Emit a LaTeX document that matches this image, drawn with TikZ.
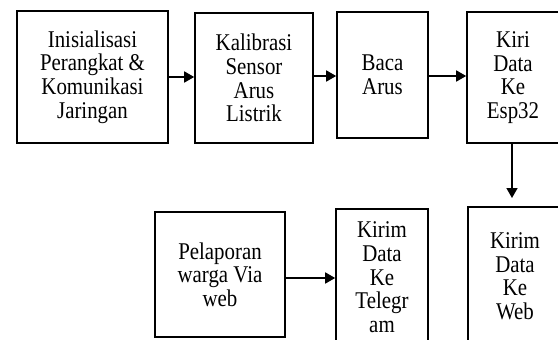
\documentclass[tikz,border=0pt]{standalone}
\usepackage{fontspec}
\setmainfont{Liberation Serif}[FakeStretch=0.87]
\usetikzlibrary{arrows.meta}
\begin{document}
\begin{tikzpicture}[x=1pt,y=-1pt,
  box/.style={draw,line width=1.6pt,align=center,inner sep=0pt,
    font=\fontsize{24}{23.7}\selectfont},
  conn/.style={line width=1.6pt,-{Triangle[length=10pt,width=11pt]}}]
\useasboundingbox (0,0) rectangle (558,340);
\clip (0,0) rectangle (558,340);
\node[box,minimum width=151pt,minimum height=132pt] (init) at (92.5,77) {Inisialisasi\\Perangkat \&\\Komunikasi\\Jaringan};
\node[box,minimum width=118pt,minimum height=130pt] (kal) at (254,78) {Kalibrasi\\Sensor\\Arus\\Listrik};
\node[box,minimum width=91pt,minimum height=126pt] (baca) at (382.5,75) {Baca\\Arus};
\node[box,minimum width=92pt,minimum height=131pt] (kiri) at (513,77.5) {Kiri\\Data\\Ke\\Esp32};
\node[box,minimum width=130pt,minimum height=125pt] (pel) at (220,274.5) {Pelaporan\\warga Via\\web};
\node[box,minimum width=92pt,minimum height=136.8pt] (tele) at (382,277.4) {Kirim\\Data\\Ke\\Telegr\\am};
\node[box,minimum width=94pt,minimum height=138.6pt] (web) at (515,276.3) {Kirim\\Data\\Ke\\Web};
\coordinate (down) at (512,198);
\draw[conn] (init.east |- 0,77) -- (kal.west |- 0,77);
\draw[conn] (kal.east |- 0,76) -- (baca.west |- 0,76);
\draw[conn] (baca.east |- 0,76) -- (kiri.west |- 0,76);
\draw[conn] (kiri.south -| down) -- (down);
\draw[conn] (pel.east |- 0,278) -- (tele.west |- 0,278);
\end{tikzpicture}
\end{document}
